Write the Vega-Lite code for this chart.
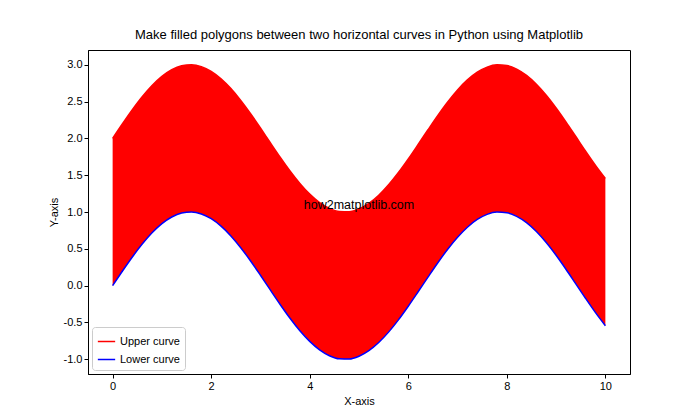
{
  "$schema": "https://vega.github.io/schema/vega-lite/v6.json",
  "width": 542,
  "height": 324,
  "autosize": {"type": "none"},
  "padding": {"left": 88, "top": 50, "right": 70, "bottom": 46},
  "background": "white",
  "config": {
    "font": "Liberation Sans",
    "locale": {"number": {"decimal": ".", "thousands": ",", "grouping": [3], "currency": ["$", ""], "minus": "-"}},
    "view": {"stroke": "black", "strokeWidth": 1},
    "axis": {"domainColor": "black", "tickColor": "black", "labelColor": "black", "titleColor": "black", "labelFontSize": 11, "titleFontSize": 11, "titleFontWeight": "normal", "tickSize": 4, "grid": false, "labelFont": "Liberation Sans", "titleFont": "Liberation Sans"}
  },
  "title": {"text": "Make filled polygons between two horizontal curves in Python using Matplotlib", "fontSize": 13, "fontWeight": "normal", "color": "black", "offset": 8, "font": "Liberation Sans"},
  "data": {"values": [
    {"x": 0, "Upper curve": 2.0, "Lower curve": 0.0},
    {"x": 0.2, "Upper curve": 2.1987, "Lower curve": 0.1987},
    {"x": 0.4, "Upper curve": 2.3894, "Lower curve": 0.3894},
    {"x": 0.6, "Upper curve": 2.5646, "Lower curve": 0.5646},
    {"x": 0.8, "Upper curve": 2.7174, "Lower curve": 0.7174},
    {"x": 1.0, "Upper curve": 2.8415, "Lower curve": 0.8415},
    {"x": 1.2, "Upper curve": 2.932, "Lower curve": 0.932},
    {"x": 1.4, "Upper curve": 2.9854, "Lower curve": 0.9854},
    {"x": 1.6, "Upper curve": 2.9996, "Lower curve": 0.9996},
    {"x": 1.8, "Upper curve": 2.9738, "Lower curve": 0.9738},
    {"x": 2.0, "Upper curve": 2.9093, "Lower curve": 0.9093},
    {"x": 2.2, "Upper curve": 2.8085, "Lower curve": 0.8085},
    {"x": 2.4, "Upper curve": 2.6755, "Lower curve": 0.6755},
    {"x": 2.6, "Upper curve": 2.5155, "Lower curve": 0.5155},
    {"x": 2.8, "Upper curve": 2.335, "Lower curve": 0.335},
    {"x": 3.0, "Upper curve": 2.1411, "Lower curve": 0.1411},
    {"x": 3.2, "Upper curve": 1.9416, "Lower curve": -0.0584},
    {"x": 3.4, "Upper curve": 1.7445, "Lower curve": -0.2555},
    {"x": 3.6, "Upper curve": 1.5575, "Lower curve": -0.4425},
    {"x": 3.8, "Upper curve": 1.3881, "Lower curve": -0.6119},
    {"x": 4.0, "Upper curve": 1.2432, "Lower curve": -0.7568},
    {"x": 4.2, "Upper curve": 1.1284, "Lower curve": -0.8716},
    {"x": 4.4, "Upper curve": 1.0484, "Lower curve": -0.9516},
    {"x": 4.6, "Upper curve": 1.0063, "Lower curve": -0.9937},
    {"x": 4.8, "Upper curve": 1.0038, "Lower curve": -0.9962},
    {"x": 5.0, "Upper curve": 1.0411, "Lower curve": -0.9589},
    {"x": 5.2, "Upper curve": 1.1165, "Lower curve": -0.8835},
    {"x": 5.4, "Upper curve": 1.2272, "Lower curve": -0.7728},
    {"x": 5.6, "Upper curve": 1.3687, "Lower curve": -0.6313},
    {"x": 5.8, "Upper curve": 1.5354, "Lower curve": -0.4646},
    {"x": 6.0, "Upper curve": 1.7206, "Lower curve": -0.2794},
    {"x": 6.2, "Upper curve": 1.9169, "Lower curve": -0.0831},
    {"x": 6.4, "Upper curve": 2.1165, "Lower curve": 0.1165},
    {"x": 6.6, "Upper curve": 2.3115, "Lower curve": 0.3115},
    {"x": 6.8, "Upper curve": 2.4941, "Lower curve": 0.4941},
    {"x": 7.0, "Upper curve": 2.657, "Lower curve": 0.657},
    {"x": 7.2, "Upper curve": 2.7937, "Lower curve": 0.7937},
    {"x": 7.4, "Upper curve": 2.8987, "Lower curve": 0.8987},
    {"x": 7.6, "Upper curve": 2.9679, "Lower curve": 0.9679},
    {"x": 7.8, "Upper curve": 2.9985, "Lower curve": 0.9985},
    {"x": 8.0, "Upper curve": 2.9894, "Lower curve": 0.9894},
    {"x": 8.2, "Upper curve": 2.9407, "Lower curve": 0.9407},
    {"x": 8.4, "Upper curve": 2.8546, "Lower curve": 0.8546},
    {"x": 8.6, "Upper curve": 2.7344, "Lower curve": 0.7344},
    {"x": 8.8, "Upper curve": 2.5849, "Lower curve": 0.5849},
    {"x": 9.0, "Upper curve": 2.4121, "Lower curve": 0.4121},
    {"x": 9.2, "Upper curve": 2.2229, "Lower curve": 0.2229},
    {"x": 9.4, "Upper curve": 2.0248, "Lower curve": 0.0248},
    {"x": 9.6, "Upper curve": 1.8257, "Lower curve": -0.1743},
    {"x": 9.8, "Upper curve": 1.6335, "Lower curve": -0.3665},
    {"x": 10.0, "Upper curve": 1.456, "Lower curve": -0.544}
  ]},
  "layer": [
    {
      "mark": {"type": "area", "color": "red", "interpolate": "monotone", "opacity": 1},
      "encoding": {
        "x": {"field": "x", "type": "quantitative", "scale": {"domain": [-0.5, 10.5], "nice": false, "zero": false}, "axis": {"values": [0, 2, 4, 6, 8, 10], "title": "X-axis", "titlePadding": 4}},
        "y": {"field": "Lower curve", "type": "quantitative", "scale": {"domain": [-1.2, 3.2], "nice": false, "zero": false}, "axis": {"values": [-1, -0.5, 0, 0.5, 1, 1.5, 2, 2.5, 3], "format": ".1f", "title": "Y-axis", "titlePadding": 4}},
        "y2": {"field": "Upper curve"}
      }
    },
    {
      "transform": [{"fold": ["Upper curve", "Lower curve"], "as": ["series", "value"]}],
      "mark": {"type": "line", "strokeWidth": 1.5, "interpolate": "monotone"},
      "encoding": {
        "x": {"field": "x", "type": "quantitative"},
        "y": {"field": "value", "type": "quantitative"},
        "color": {"field": "series", "type": "nominal", "scale": {"domain": ["Upper curve", "Lower curve"], "range": ["red", "blue"]},
          "legend": {"title": null, "orient": "bottom-left", "offset": 4, "symbolType": "stroke", "symbolSize": 300, "symbolStrokeWidth": 1.5, "labelFontSize": 11, "labelColor": "black", "strokeColor": "#cccccc", "fillColor": "white", "padding": 5, "cornerRadius": 3, "rowPadding": 3, "labelFont": "Liberation Sans"}}
      }
    },
    {
      "data": {"values": [{"x": 5, "y": 1, "label": "how2matplotlib.com"}]},
      "mark": {"type": "text", "fontSize": 12.5, "color": "black", "align": "center", "baseline": "bottom", "font": "Liberation Sans"},
      "encoding": {
        "x": {"field": "x", "type": "quantitative"},
        "y": {"field": "y", "type": "quantitative"},
        "text": {"field": "label"}
      }
    }
  ]
}
